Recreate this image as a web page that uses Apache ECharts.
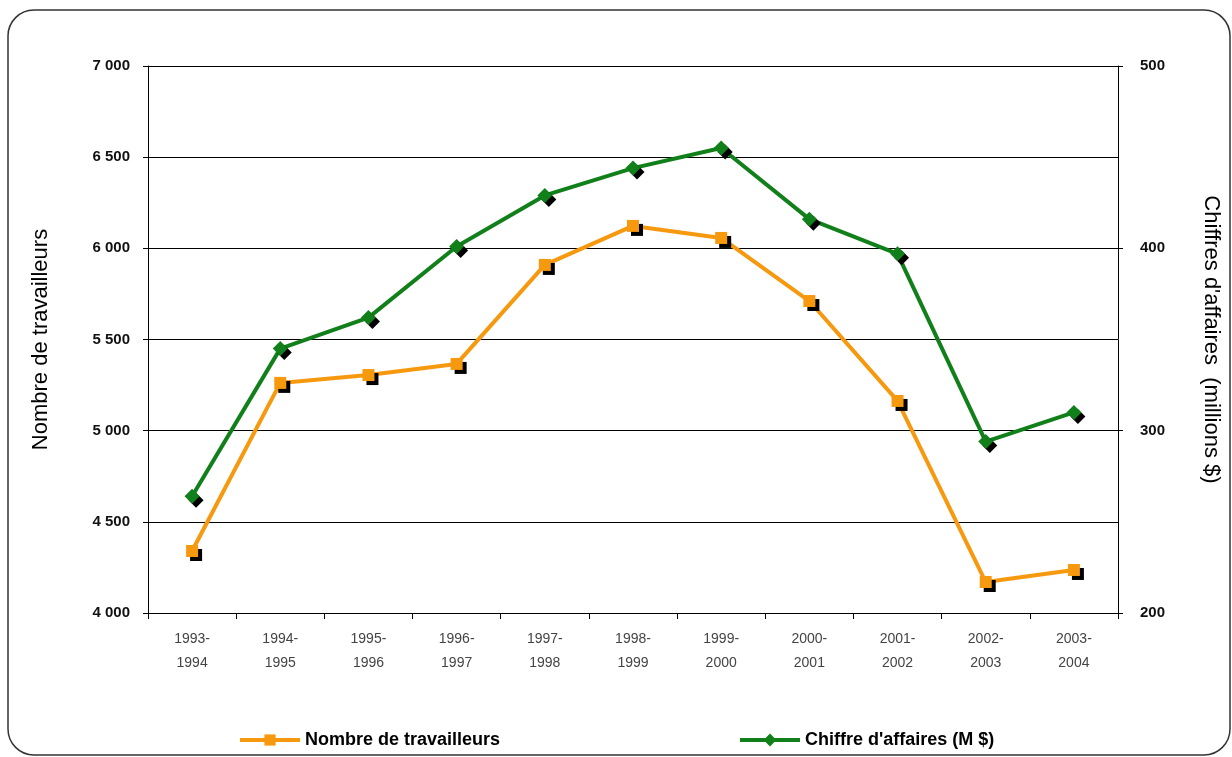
<!DOCTYPE html>
<html>
<head>
<meta charset="utf-8">
<script src="https://cdn.jsdelivr.net/npm/echarts@6/dist/echarts.min.js"></script>
<style>
  html, body { margin: 0; padding: 0; background: #fff; }
  #chart { width: 1232px; height: 757px; }
</style>
</head>
<body>
<div id="chart"></div>
<script>
// data
let years = ['1993-\n1994', '1994-\n1995', '1995-\n1996', '1996-\n1997', '1997-\n1998', '1998-\n1999',
             '1999-\n2000', '2000-\n2001', '2001-\n2002', '2002-\n2003', '2003-\n2004'];
let travailleurs = [4340, 5262, 5305, 5366, 5909, 6123, 6057, 5711, 5163, 4170, 4236];
let chiffre = [264, 345, 362, 401, 429, 444, 455, 416, 397, 294, 310];

let fmt = v => String(v).replace(/\B(?=(\d{3})+(?!\d))/g, ' ');
let font = 'Liberation Sans, Arial';
let tickFont = { color: '#111', fontFamily: font, fontSize: 15, fontWeight: 'bold' };
let legendText = { fontFamily: font, fontSize: 18, fontWeight: 'bold', color: '#000' };

let chart = echarts.init(document.getElementById('chart'));
let option = {
    backgroundColor: '#fff',
    animation: false,
    graphic: [{
        type: 'rect',
        shape: { x: 8, y: 10, width: 1222, height: 745, r: 26 },
        style: { fill: 'none', stroke: '#333', lineWidth: 1.5 },
        z: -1
    }],
    grid: { left: 148, right: 114, top: 66, bottom: 144, outerBoundsMode: 'none' },
    legend: [{
        left: 233,
        top: 726,
        itemWidth: 60,
        itemHeight: 14,
        itemGap: 4,
        lineStyle: { width: 4 },
        textStyle: legendText,
        data: ['Nombre de travailleurs']
    }, {
        left: 733,
        top: 726,
        itemWidth: 60,
        itemHeight: 16,
        lineStyle: { width: 4 },
        textStyle: legendText,
        data: ["Chiffre d'affaires (M $)"]
    }],
    xAxis: {
        type: 'category',
        data: years,
        boundaryGap: true,
        axisLine: { lineStyle: { color: '#000' } },
        axisTick: { show: true, length: 6, lineStyle: { color: '#000' } },
        axisLabel: { color: '#444', fontFamily: font, fontSize: 14, lineHeight: 24, margin: 14 }
    },
    yAxis: [{
        type: 'value',
        min: 4000,
        max: 7000,
        interval: 500,
        name: 'Nombre de travailleurs',
        nameLocation: 'middle',
        nameGap: 96,
        nameTextStyle: { fontFamily: font, fontSize: 22, color: '#000' },
        axisLine: { show: true, lineStyle: { color: '#000' } },
        axisTick: { show: true, length: 5, lineStyle: { color: '#000' } },
        axisLabel: Object.assign({ formatter: fmt, margin: 18 }, tickFont),
        splitLine: { show: true, lineStyle: { color: '#000', width: 1 } }
    }, {
        type: 'value',
        min: 200,
        max: 500,
        interval: 100,
        position: 'right',
        name: "Chiffres d'affaires  (millions $)",
        nameLocation: 'middle',
        nameRotate: -90,
        nameGap: 82,
        nameTextStyle: { fontFamily: font, fontSize: 22, color: '#000' },
        axisLine: { show: true, lineStyle: { color: '#000' } },
        axisTick: { show: true, length: 5, lineStyle: { color: '#000' } },
        axisLabel: Object.assign({ margin: 22 }, tickFont),
        splitLine: { show: false }
    }],
    series: [{
        name: 'Nombre de travailleurs',
        type: 'line',
        yAxisIndex: 0,
        data: travailleurs,
        symbol: 'rect',
        symbolSize: 12,
        lineStyle: { color: '#f7990f', width: 4 },
        itemStyle: { color: '#f7990f', shadowColor: '#000', shadowOffsetX: 4, shadowOffsetY: 4, shadowBlur: 0 }
    }, {
        name: "Chiffre d'affaires (M $)",
        type: 'line',
        yAxisIndex: 1,
        data: chiffre,
        symbol: 'diamond',
        symbolSize: 15,
        lineStyle: { color: '#11801a', width: 4 },
        itemStyle: { color: '#11801a', shadowColor: '#000', shadowOffsetX: 4, shadowOffsetY: 4, shadowBlur: 0 }
    }]
};
chart.setOption(option, true);
</script>
</body>
</html>
